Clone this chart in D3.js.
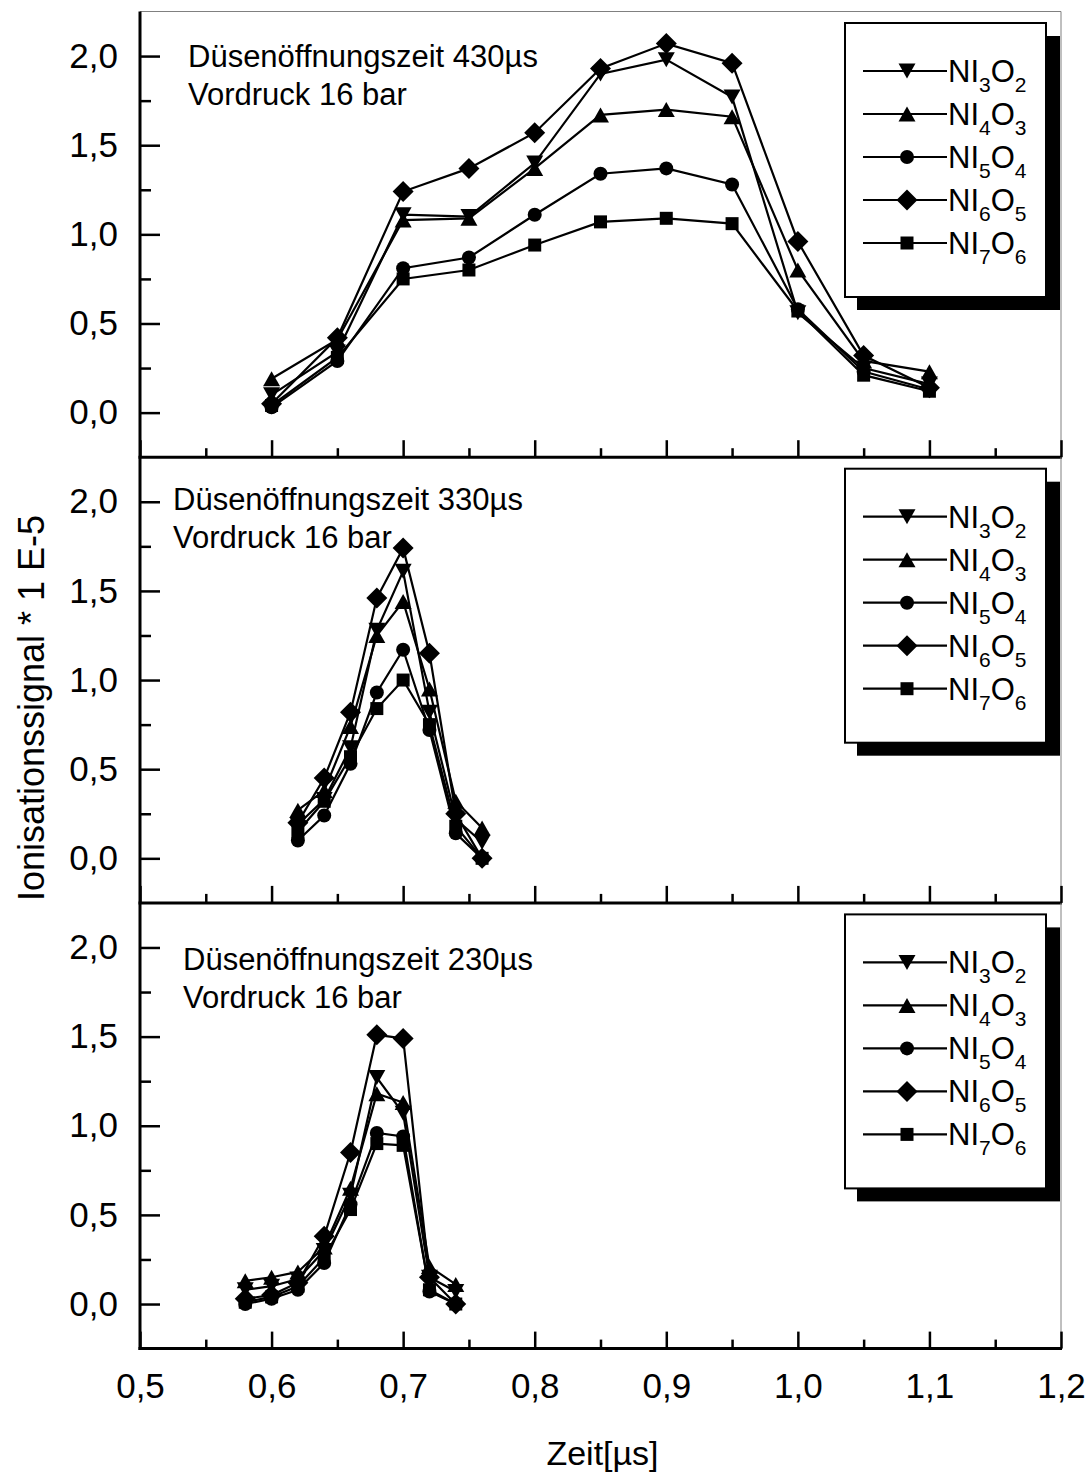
<!DOCTYPE html>
<html>
<head>
<meta charset="utf-8">
<script src="https://cdn.jsdelivr.net/npm/d3@7/dist/d3.min.js"></script>
<style>
body { margin: 0; background: #fff; }
svg { display: block; font-family: "Liberation Sans", Arial, sans-serif; }
</style>
</head>
<body>
<div id="chart"></div>
<script>
// ---- data ----
var seriesLabels = ["NI3O2", "NI4O3", "NI5O4", "NI6O5", "NI7O6"];
var panelTitles = ["Düsenöffnungszeit 430µs", "Düsenöffnungszeit 330µs", "Düsenöffnungszeit 230µs"];
var panelSubtitle = "Vordruck 16 bar";
var xTickLabels = [0.5, 0.6, 0.7, 0.8, 0.9, 1.0, 1.1, 1.2];
var xMinorTicks = [0.55, 0.65, 0.75, 0.85, 0.95, 1.05, 1.15];
var yTickLabels = [0, 0.5, 1.0, 1.5, 2.0];
var yMinorTicks = [0.25, 0.75, 1.25, 1.75];

// 430 µs
var time430 = [0.6, 0.65, 0.7, 0.75, 0.8, 0.85, 0.9, 0.95, 1.0, 1.05, 1.1];
var signal430 = [
    [0.10, 0.34, 1.11, 1.10, 1.40, 1.90, 1.98, 1.77, 0.56, 0.25, 0.16], // NI3O2
    [0.19, 0.41, 1.08, 1.09, 1.37, 1.67, 1.70, 1.66, 0.80, 0.29, 0.23], // NI4O3
    [0.03, 0.29, 0.81, 0.87, 1.11, 1.34, 1.37, 1.28, 0.58, 0.23, 0.13], // NI5O4
    [0.05, 0.42, 1.24, 1.37, 1.57, 1.93, 2.07, 1.96, 0.96, 0.32, 0.14], // NI6O5
    [0.04, 0.31, 0.75, 0.80, 0.94, 1.07, 1.09, 1.06, 0.57, 0.21, 0.12]  // NI7O6
];

// 330 µs
var time330 = [0.62, 0.64, 0.66, 0.68, 0.70, 0.72, 0.74, 0.76];
var signal330 = [
    [0.19, 0.33, 0.62, 1.28, 1.61, 0.82, 0.22, 0.09],
    [0.27, 0.38, 0.74, 1.25, 1.44, 0.95, 0.32, 0.17],
    [0.10, 0.24, 0.53, 0.93, 1.17, 0.72, 0.14, 0.00],
    [0.20, 0.45, 0.82, 1.46, 1.74, 1.15, 0.25, 0.00],
    [0.15, 0.32, 0.57, 0.84, 1.00, 0.75, 0.18, 0.00]
];

// 230 µs
var time230 = [0.58, 0.60, 0.62, 0.64, 0.66, 0.68, 0.70, 0.72, 0.74];
var signal230 = [
    [0.08, 0.10, 0.14, 0.30, 0.61, 1.27, 1.07, 0.15, 0.07],
    [0.13, 0.15, 0.18, 0.32, 0.65, 1.18, 1.13, 0.21, 0.11],
    [0.00, 0.03, 0.08, 0.23, 0.56, 0.96, 0.94, 0.07, 0.00],
    [0.03, 0.05, 0.12, 0.38, 0.85, 1.51, 1.49, 0.15, 0.00],
    [0.01, 0.04, 0.10, 0.26, 0.53, 0.90, 0.89, 0.08, 0.00]
];

var panels = [
    { title: panelTitles[0], time: time430, signal: signal430 },
    { title: panelTitles[1], time: time330, signal: signal330 },
    { title: panelTitles[2], time: time230, signal: signal230 }
];

// ---- layout ----
var width = 1092, height = 1476;
var left = 140, right = 1061, top0 = 11.5, panelH = 445.7;
var titleOffsets = [{ x: 188, y: 55.5 }, { x: 173, y: 53 }, { x: 183, y: 67 }];

var fmt = function (d) { return d3.format(".1f")(d).replace(".", ","); };

// Marker shapes (Origin style)
var markers = [
    { draw: function (c) { c.moveTo(-8.5, -7.5); c.lineTo(8.5, -7.5); c.lineTo(0, 7.5); c.closePath(); } },
    { draw: function (c) { c.moveTo(0, -7.5); c.lineTo(8.5, 7.5); c.lineTo(-8.5, 7.5); c.closePath(); } },
    { draw: function (c) { c.moveTo(7, 0); c.arc(0, 0, 7, 0, 2 * Math.PI); } },
    { draw: function (c) { c.moveTo(0, -10.5); c.lineTo(10.5, 0); c.lineTo(0, 10.5); c.lineTo(-10.5, 0); c.closePath(); } },
    { draw: function (c) { c.rect(-6.5, -6.5, 13, 13); } }
];

var svg = d3.select("#chart").append("svg")
    .attr("width", width)
    .attr("height", height);

var xScale = d3.scaleLinear().domain([0.5, 1.2]).range([left, right]);

panels.forEach(function (p, i) {
    var top = top0 + i * panelH;
    var bottom = top + panelH;
    var yScale = d3.scaleLinear().domain([-0.25, 2.25]).range([bottom, top]);
    var g = svg.append("g").attr("class", "panel");

    // thin frame on top (first panel only) and right side
    if (i === 0) {
        g.append("line").attr("x1", left).attr("x2", right).attr("y1", top).attr("y2", top)
            .attr("stroke", "#808080").attr("stroke-width", 1);
    }
    g.append("line").attr("x1", right).attr("x2", right).attr("y1", top).attr("y2", bottom)
        .attr("stroke", "#808080").attr("stroke-width", 1);

    // x axis: minor + major ticks pointing inward
    var xMinor = g.append("g")
        .attr("transform", "translate(0," + bottom + ")")
        .call(d3.axisBottom(xScale).tickValues(xMinorTicks).tickSize(-9).tickSizeOuter(0).tickFormat(""));
    var xMajor = g.append("g")
        .attr("transform", "translate(0," + bottom + ")")
        .call(d3.axisBottom(xScale).tickValues(xTickLabels).tickSize(-17).tickSizeOuter(0)
            .tickPadding(25).tickFormat(i === 2 ? fmt : ""));
    [xMinor, xMajor].forEach(function (a) {
        a.select(".domain").remove();
        a.selectAll(".tick line").attr("stroke", "#000").attr("stroke-width", 2.5);
    });
    xMajor.selectAll("text").attr("font-size", 35).attr("font-family", "Liberation Sans, Arial, sans-serif").attr("fill", "#000");

    g.append("line").attr("x1", left - 1.5).attr("x2", right + 1).attr("y1", bottom).attr("y2", bottom)
        .attr("stroke", "#000").attr("stroke-width", 3);

    // y axis ticks
    var yMinor = g.append("g")
        .attr("transform", "translate(" + left + ",0)")
        .call(d3.axisLeft(yScale).tickValues(yMinorTicks).tickSize(-11).tickSizeOuter(0).tickFormat(""));
    var yMajor = g.append("g")
        .attr("transform", "translate(" + left + ",0)")
        .call(d3.axisLeft(yScale).tickValues(yTickLabels).tickSize(-20).tickSizeOuter(0)
            .tickPadding(22).tickFormat(fmt));
    [yMinor, yMajor].forEach(function (a) {
        a.select(".domain").remove();
        a.selectAll(".tick line").attr("stroke", "#000").attr("stroke-width", 2.5);
    });
    yMajor.selectAll("text").attr("font-size", 35).attr("font-family", "Liberation Sans, Arial, sans-serif").attr("fill", "#000");

    // annotation
    var t = titleOffsets[i];
    g.append("text").attr("x", t.x).attr("y", top + t.y).attr("font-size", 31).text(p.title);
    g.append("text").attr("x", t.x).attr("y", top + t.y + 38).attr("font-size", 31).text(panelSubtitle);

    // series lines + markers
    var line = d3.line()
        .x(function (d) { return xScale(d[0]); })
        .y(function (d) { return yScale(d[1]); });

    p.signal.forEach(function (vals, s) {
        var pts = vals.map(function (v, k) { return [p.time[k], v]; });
        g.append("path")
            .datum(pts)
            .attr("fill", "none")
            .attr("stroke", "#000")
            .attr("stroke-width", 2.2)
            .attr("d", line);
        g.selectAll(".m" + s)
            .data(pts)
            .enter().append("path")
            .attr("class", "m" + s)
            .attr("transform", function (d) { return "translate(" + xScale(d[0]) + "," + yScale(d[1]) + ")"; })
            .attr("d", d3.symbol().type(markers[s]))
            .attr("fill", "#000");
    });

    // legend with drop shadow
    var lg = g.append("g").attr("transform", "translate(845," + (top + 11.5) + ")");
    lg.append("rect").attr("x", 12).attr("y", 13).attr("width", 203).attr("height", 274).attr("fill", "#000");
    lg.append("rect").attr("x", 0).attr("y", 0).attr("width", 201).attr("height", 274)
        .attr("fill", "#fff").attr("stroke", "#000").attr("stroke-width", 2);

    seriesLabels.forEach(function (lab, s) {
        var cy = 48 + s * 43;
        lg.append("line").attr("x1", 18).attr("x2", 102).attr("y1", cy).attr("y2", cy)
            .attr("stroke", "#000").attr("stroke-width", 2.2);
        lg.append("path").attr("transform", "translate(62," + cy + ")")
            .attr("d", d3.symbol().type(markers[s])).attr("fill", "#000");
        var txt = lg.append("text").attr("x", 103).attr("y", cy + 11).attr("font-size", 31);
        var parts = lab.match(/[A-Z]+|\d+/g);
        var sub = false;
        parts.forEach(function (part) {
            var isNum = /\d/.test(part);
            txt.append("tspan")
                .attr("font-size", isNum ? 21 : 31)
                .attr("dy", isNum ? (sub ? 0 : 10) : (sub ? -10 : 0))
                .text(part);
            sub = isNum;
        });
    });
});

// left axis line spanning all panels
svg.append("line").attr("x1", left).attr("x2", left)
    .attr("y1", top0).attr("y2", top0 + 3 * panelH + 1.5)
    .attr("stroke", "#000").attr("stroke-width", 3);

// axis titles
svg.append("text")
    .attr("transform", "translate(44,708) rotate(-90)")
    .attr("text-anchor", "middle")
    .attr("font-size", 36)
    .text("Ionisationssignal * 1 E-5");

svg.append("text")
    .attr("x", (left + right) / 2 + 2)
    .attr("y", 1465)
    .attr("text-anchor", "middle")
    .attr("font-size", 34)
    .text("Zeit[µs]");
</script>
</body>
</html>
